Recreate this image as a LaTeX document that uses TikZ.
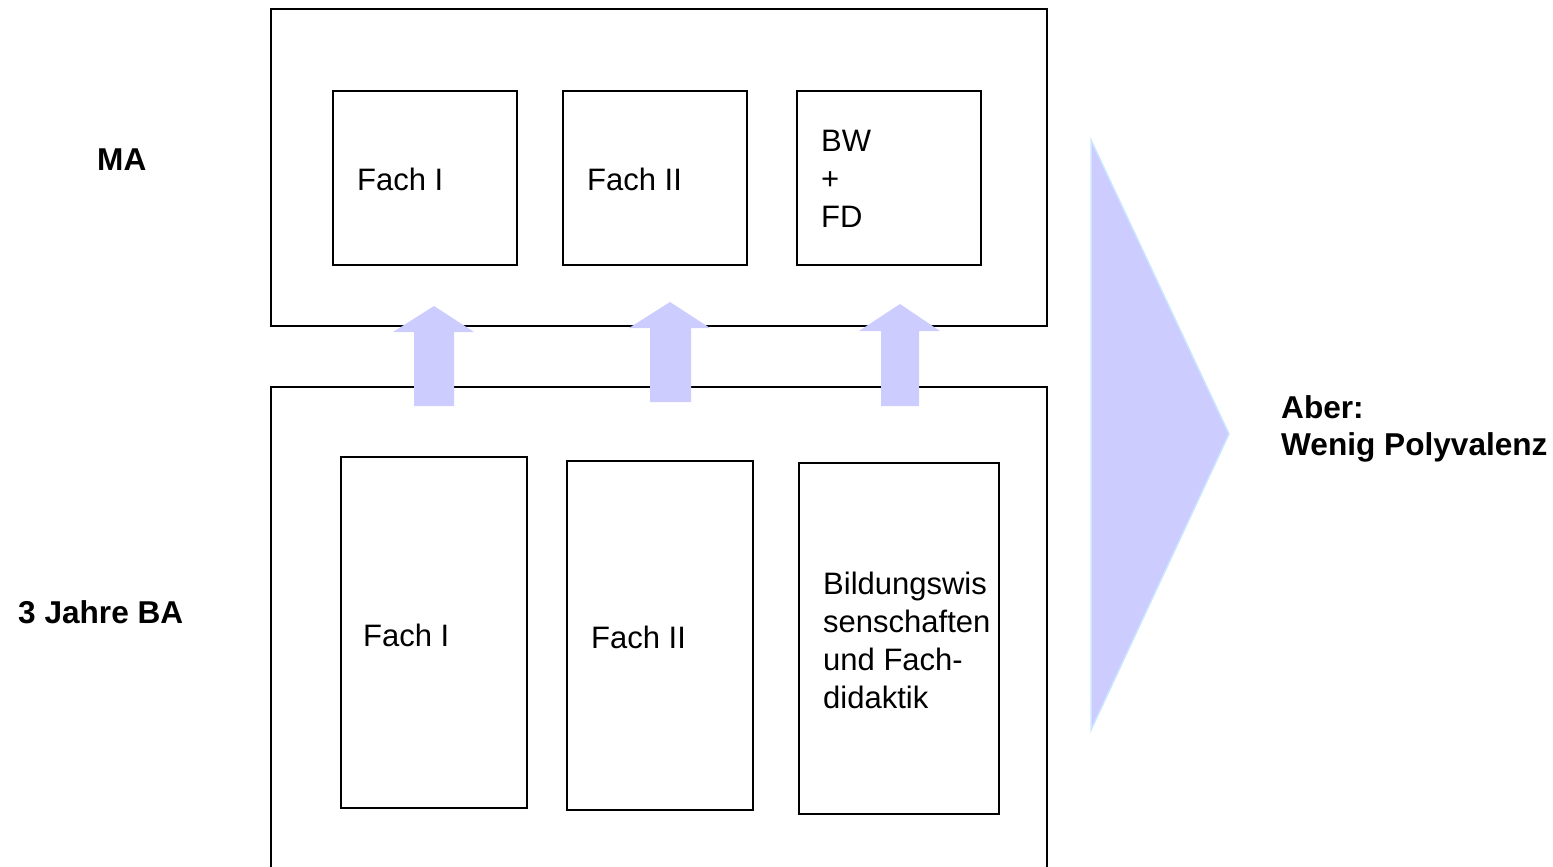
\documentclass[tikz,border=0pt]{standalone}
\usepackage{fontspec}
\setmainfont{Liberation Sans}
\begin{document}
\begin{tikzpicture}[x=1pt,y=-1pt,
  box/.style={draw=black,line width=1.6pt,inner sep=0pt,outer sep=0pt,rectangle},
  txt/.style={anchor=base west,inner sep=0pt,align=left,font=\fontsize{31}{38}\selectfont},
  lbl/.style={anchor=base west,inner sep=0pt,align=left,font=\fontsize{31.6}{37}\selectfont\bfseries},
  uparrow/.style={fill=arrowfill,draw=none},
]
\definecolor{arrowfill}{HTML}{CCCCFF}
\definecolor{triedge}{HTML}{CCE6FF}
\useasboundingbox (0,0) rectangle (1553,867);
\clip (0,0) rectangle (1553,867);

% outer boxes
\node[box,minimum width=776,minimum height=317] (ma) at (659,167.5) {};
\node[box,minimum width=776,minimum height=520] (ba) at (659,647) {};

% MA inner boxes
\node[box,minimum width=184,minimum height=174] (maf1) at (425,178) {};
\node[box,minimum width=184,minimum height=174] (maf2) at (655,178) {};
\node[box,minimum width=184,minimum height=174] (mabw) at (889,178) {};

% BA inner boxes
\node[box,minimum width=186,minimum height=351] (baf1) at (434,632.5) {};
\node[box,minimum width=186,minimum height=349] (baf2) at (660,635.5) {};
\node[box,minimum width=200,minimum height=351] (babw) at (899,638.5) {};

% texts (base anchor = baseline of the last line)
\node[txt] (t1) at (357,190) {Fach I};
\node[txt] (t2) at (587,190) {Fach II};
\node[txt] (t3) at (821,227) {BW\\+\\FD};
\node[txt] (t4) at (363,646) {Fach I};
\node[txt] (t5) at (591,648) {Fach II};
\node[txt] (t6) at (823,708) {Bildungswis\\senschaften\\und Fach-\\didaktik};

\node[lbl] (lma) at (97,170) {MA};
\node[lbl] (lba) at (18,623) {3 Jahre BA};
\node[lbl] (laber) at (1281,455) {Aber:\\Wenig Polyvalenz};

% up arrows
\fill[uparrow] (414,406) -- (414,332) -- (393,332) -- (434,306) -- (474,332) -- (454,332) -- (454,406) -- cycle;
\fill[uparrow] (650,402) -- (650,328) -- (629,328) -- (670,302) -- (710,328) -- (691,328) -- (691,402) -- cycle;
\fill[uparrow] (881,406) -- (881,331) -- (859,331) -- (900,304) -- (940,331) -- (919,331) -- (919,406) -- cycle;

% big triangle
\filldraw[fill=arrowfill,draw=triedge,line width=1.5pt] (1091,140) -- (1229,434) -- (1091,730) -- cycle;
\end{tikzpicture}
\end{document}
